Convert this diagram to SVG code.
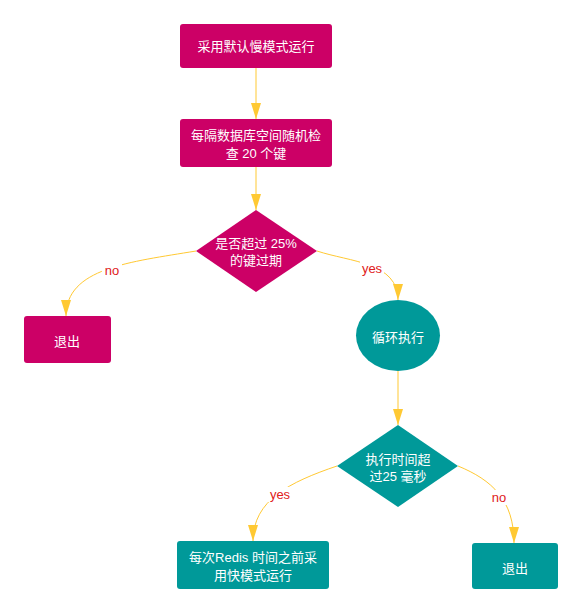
<svg xmlns="http://www.w3.org/2000/svg" width="582" height="614" viewBox="0 0 582 614">
<defs>
<marker id="ah" markerUnits="userSpaceOnUse" markerWidth="16" markerHeight="10" refX="16" refY="5" orient="auto" viewBox="0 0 16 10">
<path d="M0,0 L16,5 L0,10 z" fill="#FFC933"/>
</marker>
<style>
.m{fill:#CC0066}
.t{fill:#009999}
.tx{fill:#ffffff;font-family:"Liberation Sans","Noto Sans CJK SC",sans-serif;font-size:13px;text-anchor:middle}
.lb{fill:#E02020;font-family:"Liberation Sans","Noto Sans CJK SC",sans-serif;font-size:13px;text-anchor:middle}
.c{fill:none;stroke:#FFC933;stroke-width:1;marker-end:url(#ah)}
</style>
</defs>
<rect width="582" height="614" fill="#ffffff"/>
<g id="connectors">
<path class="c" d="M256,68 L256,119"/>
<path class="c" d="M256,167 L256,210"/>
<path class="c" d="M196,251 C130,262 66,268 66,316"/>
<path class="c" d="M317,251 C350,262 398,262 398,300"/>
<path class="c" d="M398,371 L398,425"/>
<path class="c" d="M337,466 C290,482 253,500 253,541"/>
<path class="c" d="M458,466 C492,480 514,500 514,543"/>
<rect x="102" y="263" width="20" height="15" fill="#ffffff"/>
<text class="lb" x="112" y="275">no</text>
<rect x="360" y="261" width="24" height="15" fill="#ffffff"/>
<text class="lb" x="372" y="273">yes</text>
<rect x="268" y="487" width="24" height="15" fill="#ffffff"/>
<text class="lb" x="280" y="499">yes</text>
<rect x="489" y="490" width="20" height="15" fill="#ffffff"/>
<text class="lb" x="499" y="502">no</text>
</g>
<g id="n1">
<rect class="m" x="180" y="24" width="152" height="44" rx="3"/>
<text class="tx" x="256" y="51">采用默认慢模式运行</text>
</g>
<g id="n2">
<rect class="m" x="180" y="119" width="152" height="48" rx="3"/>
<text class="tx" x="256" y="140">每隔数据库空间随机检</text>
<text class="tx" x="256" y="158">查 20 个键</text>
</g>
<g id="n3">
<polygon class="m" points="256,210 317,251 256,292 196,251"/>
<text class="tx" x="256" y="248">是否超过 25%</text>
<text class="tx" x="256" y="265">的键过期</text>
</g>
<g id="n4">
<rect class="m" x="24" y="316" width="87" height="47" rx="3"/>
<text class="tx" x="67" y="346">退出</text>
</g>
<g id="n5">
<ellipse class="t" cx="398" cy="335.5" rx="42" ry="35.5"/>
<text class="tx" x="398" y="342">循环执行</text>
</g>
<g id="n6">
<polygon class="t" points="398,425 458,466 398,507 337,466"/>
<text class="tx" x="398" y="464">执行时间超</text>
<text class="tx" x="398" y="481">过25 毫秒</text>
</g>
<g id="n7">
<rect class="t" x="177" y="541" width="152" height="48" rx="3"/>
<text class="tx" x="253" y="562">每次Redis 时间之前采</text>
<text class="tx" x="253" y="580">用快模式运行</text>
</g>
<g id="n8">
<rect class="t" x="472" y="543" width="86" height="46" rx="3"/>
<text class="tx" x="515" y="573">退出</text>
</g>
</svg>
